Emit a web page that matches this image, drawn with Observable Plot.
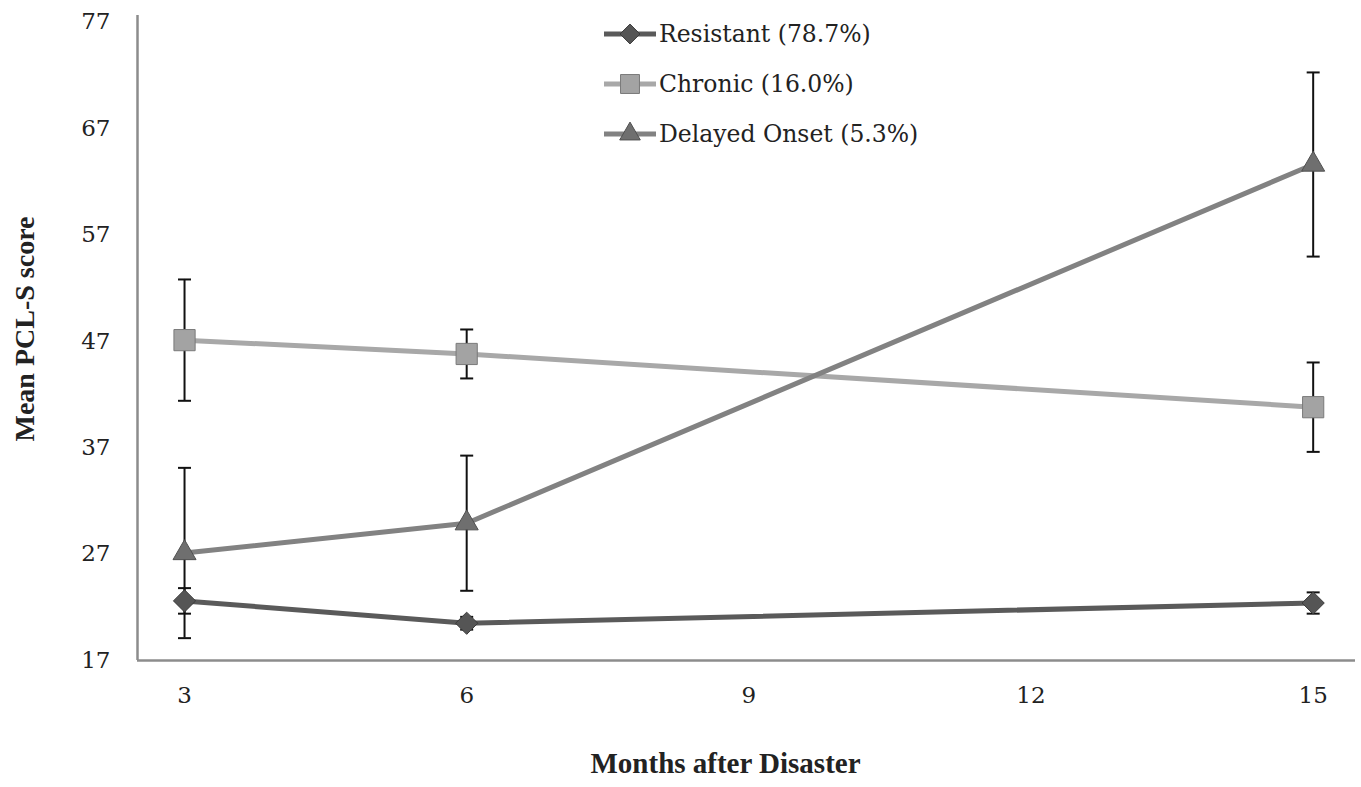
<!DOCTYPE html>
<html><head><meta charset="utf-8">
<script src="https://cdn.jsdelivr.net/npm/d3@7"></script>
<script src="https://cdn.jsdelivr.net/npm/@observablehq/plot@0.6"></script>
<style>
body{margin:0;background:#fff;}
#wrap{position:relative;width:1361px;height:787px;font-family:"DejaVu Serif",serif;}
#legend{position:absolute;left:602px;top:9px;}
.row{display:flex;align-items:center;height:50px;font-size:23.5px;color:#222;}
.row svg{margin-right:1px;}
</style></head><body><div id="wrap"><div id="legend"></div></div>
<script>
const months = [3, 6, 15];
const seriesNames = ["Resistant (78.7%)", "Chronic (16.0%)", "Delayed Onset (5.3%)"];
const resistantMean = [22.6, 20.5, 22.4];
const resistantErr = [1.2, 0.6, 1.0];
const chronicMean = [47.1, 45.8, 40.8];
const chronicErr = [5.7, 2.3, 4.2];
const delayedMean = [27.1, 29.9, 63.6];
const delayedErr = [8.0, 6.35, 8.65];
const yTicks = [17, 27, 37, 47, 57, 67, 77];
const xTicks = [3, 6, 9, 12, 15];
const xTitle = "Months after Disaster";
const yTitle = "Mean PCL-S score";

const styles = [
  {line: "#5a5a5a", fill: "#555555", stroke: "#3a3a3a", symbol: "diamond2", r: 10},
  {line: "#a8a8a8", fill: "#a3a3a3", stroke: "#7a7a7a", symbol: "square2", r: 13.5},
  {line: "#828282", fill: "#6f6f6f", stroke: "#505050", symbol: "triangle2", r: 11}
];
const means = [resistantMean, chronicMean, delayedMean];
const errs = [resistantErr, chronicErr, delayedErr];

const data = [];
seriesNames.forEach((s, i) => months.forEach((m, j) => data.push({
  series: s, idx: i, month: m, mean: means[i][j], err: errs[i][j]
})));

const capSymbol = {draw(ctx, size) { const r = Math.sqrt(size / Math.PI); ctx.moveTo(-r, 0); ctx.lineTo(r, 0); }};

const marks = [
  Plot.ruleX([2.5], {stroke: "#8c8c8c", strokeWidth: 2.5}),
  Plot.ruleY([17], {stroke: "#8c8c8c", strokeWidth: 2.5}),
  Plot.axisY({ticks: yTicks, tickSize: 0, tickPadding: 27, fontSize: 23, label: null}),
  Plot.axisX({ticks: xTicks, tickSize: 0, tickPadding: 26, fontSize: 23, label: null}),
  Plot.text([xTitle], {frameAnchor: "bottom", dy: 112, dx: -21, fontSize: 29, fontFamily: "'Liberation Serif', serif", fontWeight: "bold", fill: "#222", text: d => d}),
  Plot.text([yTitle], {frameAnchor: "left", textAnchor: "middle", dx: -112, dy: -9, rotate: -90, fontSize: 28, fontFamily: "'Liberation Serif', serif", fontWeight: "bold", fill: "#222", text: d => d})
];
seriesNames.forEach((s, i) => {
  marks.push(Plot.line(data.filter(d => d.idx === i), {x: "month", y: "mean", stroke: styles[i].line, strokeWidth: 5}));
});
marks.push(Plot.ruleX(data, {x: "month", y1: d => d.mean - d.err, y2: d => d.mean + d.err, stroke: "#111", strokeWidth: 2}));
marks.push(Plot.dot(data, {x: "month", y: d => d.mean - d.err, symbol: capSymbol, r: 6.5, stroke: "#111", strokeWidth: 2}));
marks.push(Plot.dot(data, {x: "month", y: d => d.mean + d.err, symbol: capSymbol, r: 6.5, stroke: "#111", strokeWidth: 2}));
seriesNames.forEach((s, i) => {
  marks.push(Plot.dot(data.filter(d => d.idx === i), {x: "month", y: "mean", symbol: styles[i].symbol, r: styles[i].r, fill: styles[i].fill, stroke: styles[i].stroke, strokeWidth: 1}));
});

const chart = Plot.plot({
  width: 1361, height: 787,
  marginLeft: 137, marginRight: 6, marginTop: 15, marginBottom: 127,
  style: {fontFamily: "'DejaVu Serif', serif", color: "#222", background: "#fff"},
  x: {domain: [2.5, 15.45]},
  y: {domain: [17, 77.6]},
  marks
});
document.getElementById("wrap").prepend(chart);

// legend
const legend = document.getElementById("legend");
const sym = {diamond2: d3.symbolDiamond2, square2: d3.symbolSquare2, triangle2: d3.symbolTriangle2};
seriesNames.forEach((s, i) => {
  const row = document.createElement("div");
  row.className = "row";
  const st = styles[i];
  const path = d3.symbol(sym[st.symbol], Math.PI * st.r * st.r * 0.8)();
  row.innerHTML = `<svg width="56" height="30"><line x1="2" x2="54" y1="15" y2="15" stroke="${st.line}" stroke-width="5"/><path transform="translate(28,15)" d="${path}" fill="${st.fill}" stroke="${st.stroke}"/></svg><span>${s}</span>`;
  legend.appendChild(row);
});
</script></body></html>
